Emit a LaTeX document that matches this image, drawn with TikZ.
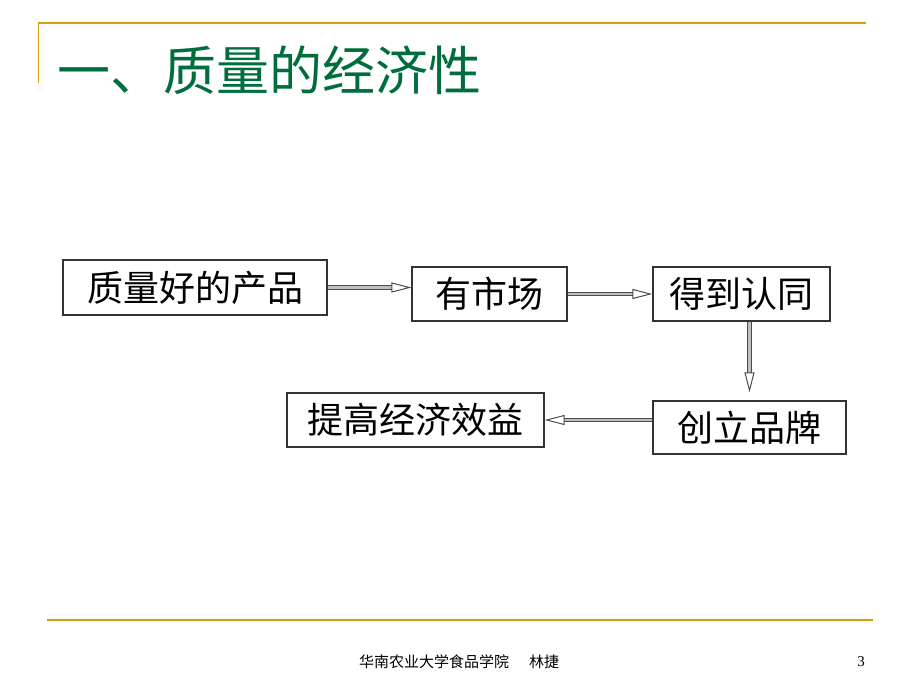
\documentclass[tikz,border=0pt]{standalone}
\usepackage{xcolor}
\usepackage{fontspec}
\usepackage{tikz}
\usetikzlibrary{calc,arrows.meta}

\newfontfamily\cjk{Noto Sans CJK SC}
\setmainfont{Liberation Serif}

\definecolor{slidegold}{RGB}{214,160,20}
\definecolor{slidegreen}{RGB}{0,110,60}

\begin{document}
\begin{tikzpicture}[x=1pt,y=-1pt,
		box/.style={draw=black!80,line width=1.3pt,fill=white,inner sep=0pt,font=\cjk\fontsize{36}{36}\selectfont},
		flow/.style={draw=black!70,line width=1pt,double=black!25,double distance=2.5pt,-{Triangle[open,length=20pt,width=10pt]}}]
			\useasboundingbox (0,0) rectangle (920,690);
			% frame of the slide
			\draw[slidegold,line width=2.5pt] (38,23) -- (866,23);
			\draw[slidegold,line width=0.8pt] (38,23) -- (38,83);
			\draw[slidegold,line width=2.5pt] (47,620) -- (873,620);
			\node[anchor=west,text=slidegreen,inner sep=0pt,font=\cjk\fontsize{53}{53}\selectfont] (title) at (57,70) {一、质量的经济性};
			% boxes
			\node[box,minimum width=264pt,minimum height=55pt] (good) at (195,287.5) {质量好的产品};
			\node[box,minimum width=155pt,minimum height=54pt] (market) at (489.5,294) {有市场};
			\node[box,minimum width=177pt,minimum height=54pt] (accept) at (741.5,294) {得到认同};
			\node[box,minimum width=193pt,minimum height=53pt] (brand) at (749.5,427.5) {创立品牌};
			\node[box,minimum width=257pt,minimum height=54pt] (benefit) at (415.5,420) {提高经济效益};
			% arrows
			\draw[flow] (good.east) -- (good.east -| market.west);
			\draw[flow] (market.east) -- (market.east -| accept.west);
			\draw[flow] (accept.south -| brand.north) -- ([yshift=8pt]brand.north);
			\draw[flow] (brand.west |- benefit.east) -- (benefit.east);
			% footer
			\node[font=\cjk\fontsize{15}{15}\selectfont,inner sep=0pt] (footer) at (459,662) {华南农业大学食品学院\hspace{20pt}林捷};
			\node[font=\fontsize{15}{15}\selectfont,inner sep=0pt] (page) at (861,662) {3};
		\end{tikzpicture}
\end{document}
